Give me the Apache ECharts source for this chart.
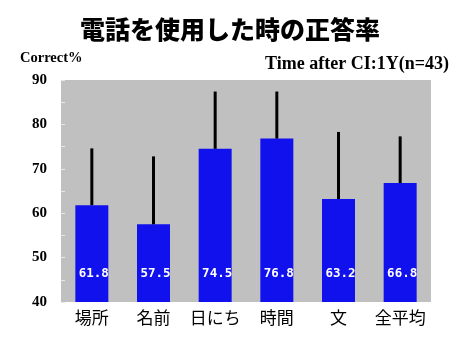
<!DOCTYPE html>
<html><head><meta charset="utf-8">
<script src="https://cdn.jsdelivr.net/npm/echarts@6/dist/echarts.min.js"></script>
<style>html,body{margin:0;padding:0;background:#fff}#c{width:460px;height:345px}</style>
</head><body><div id="c"></div>
<script>
var categories = ['場所','名前','日にち','時間','文','全平均'];
var values = [61.8, 57.5, 74.5, 76.8, 63.2, 66.8];
var errorTops = [74.6, 72.8, 87.4, 87.4, 78.3, 77.3];
var yTicks = [40, 50, 60, 70, 80, 90];

var chart = echarts.init(document.getElementById('c'), null, {renderer:'canvas'});
var errData = categories.map(function(c,i){ return [i, values[i], errorTops[i]]; });
chart.setOption({
  animation:false,
  backgroundColor:'#ffffff',
  title:[{
    text:'電話を使用した時の正答率', left:'center', top:12,
    textStyle:{fontFamily:'Noto Sans CJK JP', fontWeight:900, fontSize:25, color:'#000'}
  },{
    text:'Correct%', left:15, top:46,
    textStyle:{fontFamily:'Liberation Serif', fontWeight:'bold', fontSize:14.5, color:'#000'}
  },{
    text:'Time after CI:1Y(n=43)', right:6, top:50,
    textStyle:{fontFamily:'Liberation Serif', fontWeight:'bold', fontSize:18, color:'#000'}
  }],
  grid:{left:61, right:29, top:80, bottom:43, show:true, backgroundColor:'#c0c0c0', borderWidth:0},
  xAxis:{
    type:'category', data:categories,
    axisLine:{show:false}, axisTick:{show:false},
    axisLabel:{interval:0, fontFamily:'Noto Sans CJK JP', fontSize:17, color:'#000', margin:7}
  },
  yAxis:{
    type:'value', min:yTicks[0], max:yTicks[yTicks.length-1], interval:5,
    axisLine:{show:false},
    axisTick:{show:true, inside:true, length:4, lineStyle:{color:'#e8e8e8', width:1}},
    splitLine:{show:false},
    axisLabel:{fontFamily:'Liberation Serif', fontWeight:'bold', fontSize:15, color:'#000', margin:14,
      formatter:function(v){ return yTicks.indexOf(v)>=0 ? String(v) : ''; }}
  },
  series:[{
    type:'bar', data:values, barWidth:33,
    itemStyle:{color:'#1111ee'},
    label:{show:true, position:'insideBottom', distance:22, offset:[2,0],
      fontFamily:'DejaVu Sans Mono', fontWeight:'bold', fontSize:12.5, color:'#fff',
      formatter:function(p){ return p.value.toFixed(1); }}
  },{
    type:'custom', data:errData, z:5,
    renderItem:function(params, api){
      var p1 = api.coord([api.value(0), api.value(1)]);
      var p2 = api.coord([api.value(0), api.value(2)]);
      return {type:'line', shape:{x1:p1[0], y1:p1[1], x2:p2[0], y2:p2[1]}, style:{stroke:'#000', lineWidth:3}};
    }
  }]
});
</script></body></html>
